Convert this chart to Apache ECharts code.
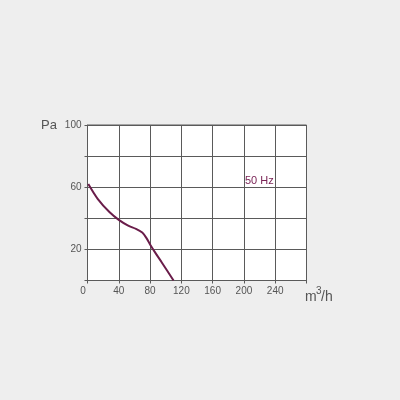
<!DOCTYPE html>
<html>
<head>
<meta charset="utf-8">
<script src="https://cdn.jsdelivr.net/npm/echarts@6/dist/echarts.min.js"></script>
<style>
html,body{margin:0;padding:0;background:#eeeeee;}
#c{width:400px;height:400px;}
</style>
</head>
<body>
<div id="c"></div>
<script>
var flow = [1, 13, 28, 40, 52, 62, 70, 75, 80, 87, 95, 110];
var pressure = [62, 52.5, 44, 39, 35.3, 33.2, 30.8, 27.6, 23.2, 17.6, 11.6, 0];
var xTickLabels = [0, 40, 80, 120, 160, 200, 240];
var yTickLabels = [20, 60, 100];
var seriesName = '50 Hz';
var yUnit = 'Pa';
var xUnitParts = ['m', '3', '/h'];

var chart = echarts.init(document.getElementById('c'));
var font = 'Liberation Sans, Arial, sans-serif';
var txt = '#555555';
chart.setOption({
  backgroundColor: '#eeeeee',
  animation: false,
  grid: {left: 87.5, right: 93.5, top: 125, bottom: 119.5, show: true,
         backgroundColor: '#ffffff', borderColor: '#5a5a5a', borderWidth: 1},
  xAxis: {
    type: 'value', min: 0, max: 280, interval: 40,
    axisLine: {show: true, lineStyle: {color: '#5a5a5a'}},
    axisTick: {show: true, length: 3, lineStyle: {color: '#5a5a5a'},
      interval: function(i, v){ return v > 0 && v < 280; }},
    splitLine: {show: true, lineStyle: {color: '#5a5a5a', width: 1}},
    axisLabel: {
      color: txt, fontSize: 10, fontFamily: font, margin: 6,
      formatter: function(v){
        if (xTickLabels.indexOf(v) < 0) return '';
        if (v === 0) return '{z|0}';
        return String(v);
      },
      rich: {z: {fontSize: 10, fontFamily: font, color: txt, padding: [0, 9, 0, 0]}}
    }
  },
  yAxis: {
    type: 'value', min: 0, max: 100, interval: 20,
    axisLine: {show: true, lineStyle: {color: '#5a5a5a'}},
    axisTick: {show: true, length: 3, lineStyle: {color: '#5a5a5a'}},
    splitLine: {show: true, lineStyle: {color: '#5a5a5a', width: 1}},
    axisLabel: {
      color: txt, fontSize: 10, fontFamily: font, margin: 6,
      formatter: function(v){ return yTickLabels.indexOf(v) >= 0 ? String(v) : ''; }
    }
  },
  series: [{
    name: seriesName, type: 'line', smooth: 0.3, showSymbol: false,
    lineStyle: {color: '#6a1d4a', width: 2},
    data: flow.map(function(x, i){ return [x, pressure[i]]; })
  }],
  graphic: [
    {type: 'text', left: 41, top: 119, style: {text: yUnit, fontSize: 13, fontFamily: font, fill: txt}},
    {type: 'text', x: 305, y: 304.5, style: {text: xUnitParts[0], fontSize: 14, fontFamily: font, fill: txt, verticalAlign: 'bottom'}},
    {type: 'text', x: 316, y: 296.5, style: {text: xUnitParts[1], fontSize: 10, fontFamily: font, fill: txt, verticalAlign: 'bottom'}},
    {type: 'text', x: 321, y: 304.5, style: {text: xUnitParts[2], fontSize: 14, fontFamily: font, fill: txt, verticalAlign: 'bottom'}},
    {type: 'text', left: 245, top: 175, style: {text: seriesName, fontSize: 11, fontFamily: font, fill: '#7a2456'}}
  ]
});
</script>
</body>
</html>
